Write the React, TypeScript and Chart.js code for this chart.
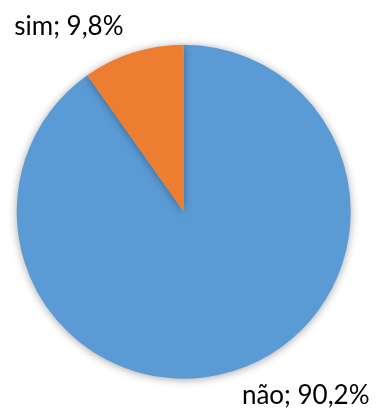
import React, { useEffect, useRef } from "react";
import { Chart, registerables } from "chart.js";

Chart.register(...registerables);

const categories = ["não", "sim"];
const values = [90.2, 9.8];
const valueLabels = ["90,2%", "9,8%"];
const colors = ["#5B9BD5", "#ED7D31"];

const shadowPlugin = {
  id: "softShadow",
  beforeDatasetsDraw(chart: any) {
    const ctx = chart.ctx;
    ctx.save();
    ctx.shadowColor = "rgba(0,0,0,0.35)";
    ctx.shadowBlur = 9;
    ctx.shadowOffsetX = 0;
    ctx.shadowOffsetY = 1;
  },
  afterDatasetsDraw(chart: any) {
    chart.ctx.restore();
  },
};

const labelPlugin = {
  id: "outsideLabels",
  afterDraw(chart: any) {
    const ctx = chart.ctx;
    const meta = chart.getDatasetMeta(0);
    ctx.save();
    ctx.font = "26px Lato, 'Liberation Sans', sans-serif";
    ctx.fillStyle = "#000000";
    ctx.textBaseline = "middle";
    meta.data.forEach((arc: any, i: number) => {
      const p = arc.getProps(["x", "y", "startAngle", "endAngle", "outerRadius"], true);
      const mid = (p.startAngle + p.endAngle) / 2;
      const r = p.outerRadius + 25;
      const ax = p.x + Math.cos(mid) * r;
      const ay = p.y + Math.sin(mid) * r;
      const text = categories[i] + "; " + valueLabels[i];
      if (Math.cos(mid) < 0) {
        ctx.textAlign = "right";
        ctx.fillText(text, ax - 2, ay - 2);
      } else {
        ctx.textAlign = "left";
        ctx.fillText(text, ax, ay + 1);
      }
    });
    ctx.restore();
  },
};

export default function App() {
  const ref = useRef<HTMLCanvasElement>(null);
  useEffect(() => {
    if (!ref.current) return;
    const chart = new Chart(ref.current, {
      type: "pie",
      data: {
        labels: categories,
        datasets: [
          {
            data: values,
            backgroundColor: colors,
            borderWidth: 0,
          },
        ],
      },
      options: {
        responsive: false,
        animation: false,
        layout: { padding: { left: 16.7, right: 28.3, top: 44.7, bottom: 36.3 } },
        plugins: {
          legend: { display: false },
          tooltip: { enabled: false },
        },
      },
      plugins: [shadowPlugin, labelPlugin],
    });
    return () => chart.destroy();
  }, []);
  return (
    <canvas
      ref={ref}
      width={379}
      height={415}
      style={{ position: "fixed", left: 0, top: 0, width: 379, height: 415 }}
    />
  );
}
